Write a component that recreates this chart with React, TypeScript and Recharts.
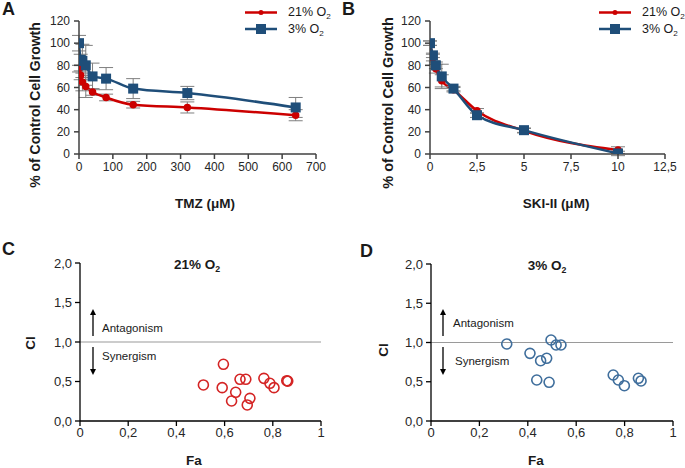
import React from 'react';
import {
  ComposedChart,
  Line,
  ErrorBar,
  XAxis,
  YAxis,
  ScatterChart,
  Scatter,
  ReferenceLine,
} from 'recharts';

// ---- data ----
const tmzDose = [0, 5, 10, 20, 40, 80, 160, 320, 640];
const tmzNormoxia = [77, 71, 65, 61, 56, 51, 44.5, 42, 35];
const tmzNormoxiaErr = [3, 4, 8, 10, 3, 3, 3, 5, 5];
const tmzHypoxia = [100, 85, 84, 80, 70, 68, 59, 55, 42];
const tmzHypoxiaErr = [7, 5, 15, 18, 12, 10, 9, 6, 9];

const skiDose = [0, 0.156, 0.3125, 0.625, 1.25, 2.5, 5, 10];
const skiNormoxia = [100, 87, 77, 66, 58, 39, 21, 3.5];
const skiNormoxiaErr = [2, 3, 4, 5.5, 2, 2, 2, 3];
const skiHypoxia = [100, 89, 80, 70, 59, 35, 21.5, 0.5];
const skiHypoxiaErr = [2, 2, 3, 11, 2, 2, 2, 2];

const fa21 = [0.595, 0.512, 0.59, 0.664, 0.688, 0.763, 0.788, 0.805, 0.858, 0.862, 0.646, 0.629, 0.705, 0.694];
const ci21 = [0.718, 0.456, 0.422, 0.528, 0.528, 0.54, 0.477, 0.422, 0.51, 0.505, 0.363, 0.253, 0.287, 0.203];

const fa3 = [0.313, 0.496, 0.517, 0.537, 0.409, 0.453, 0.478, 0.437, 0.488, 0.753, 0.774, 0.799, 0.857, 0.868];
const ci3 = [0.981, 1.032, 0.968, 0.968, 0.862, 0.768, 0.799, 0.522, 0.493, 0.586, 0.522, 0.45, 0.544, 0.51];

const growthTicks = [0, 20, 40, 60, 80, 100, 120];
const tmzTicks = [0, 100, 200, 300, 400, 500, 600, 700];
const skiTicks = [0, 2.5, 5, 7.5, 10, 12.5];
const faTicks = [0, 0.2, 0.4, 0.6, 0.8, 1];
const ciTicks = [0, 0.5, 1, 1.5, 2];

const RED = '#cc0000';
const BLUE = '#1f4e79';
const RED_OPEN = '#d42424';
const BLUE_OPEN = '#3f6e9c';
const FONT = '"Liberation Sans", Arial, sans-serif';

const series = (xs: number[], ys: number[], es?: number[]) =>
  xs.map((x, i) => ({ x, y: ys[i], err: es ? es[i] : 0 }));

const comma = (v: number) => String(v).replace('.', ',');
const comma1 = (v: number) => v.toFixed(1).replace('.', ',');

const Square = (props: any) => {
  const { cx, cy, index } = props;
  if (cx == null || cy == null) return <g key={index} />;
  return <rect key={index} x={cx - 5} y={cy - 5} width={10} height={10} fill={BLUE} />;
};

const OpenCircle = (color: string) => (props: any) => {
  const { cx, cy } = props;
  return <circle cx={cx} cy={cy} r={5} fill="none" stroke={color} strokeWidth={1.6} />;
};

const tickStyle = { fontSize: 12, fill: '#262626', fontFamily: FONT };
const ciTickStyle = { fontSize: 13, fill: '#262626', fontFamily: FONT };
const axisLine = { stroke: '#404040', strokeWidth: 1.5 };

const Txt: React.FC<{ x: number; y: number; size?: number; bold?: boolean; rotate?: boolean; anchor?: 'start' | 'middle'; children: React.ReactNode }> = ({
  x,
  y,
  size = 12,
  bold,
  rotate,
  anchor = 'middle',
  children,
}) => (
  <div
    style={{
      position: 'absolute',
      left: x,
      top: y,
      fontSize: size,
      fontWeight: bold ? 'bold' : 'normal',
      fontFamily: FONT,
      color: '#1a1a1a',
      whiteSpace: 'nowrap',
      lineHeight: 1,
      transform: `translate(${anchor === 'middle' ? '-50%' : '0'}, -50%)${rotate ? ' rotate(-90deg)' : ''}`,
      transformOrigin: anchor === 'middle' ? 'center' : 'left center',
    }}
  >
    {children}
  </div>
);

const O2 = ({ pct }: { pct: string }) => (
  <span>
    {pct} O<span style={{ fontSize: '0.65em', position: 'relative', top: 3 }}>2</span>
  </span>
);

const LegendBox = ({ x }: { x: number }) => (
  <>
    <svg style={{ position: 'absolute', left: x, top: 4 }} width={36} height={34}>
      <line x1={2} y1={8.5} x2={34} y2={8.5} stroke={RED} strokeWidth={2.5} />
      <circle cx={18} cy={8.5} r={2.5} fill={RED} />
      <line x1={2} y1={25} x2={34} y2={25} stroke={BLUE} strokeWidth={2.5} />
      <rect x={13} y={20} width={10} height={10} fill={BLUE} />
    </svg>
    <Txt x={x + 45} y={12} size={12.5} anchor="start">
      <O2 pct="21%" />
    </Txt>
    <Txt x={x + 45} y={29} size={12.5} anchor="start">
      <O2 pct="3%" />
    </Txt>
  </>
);

const Arrows = ({ x }: { x: number; }) => (
  <svg style={{ position: 'absolute', left: x - 5, top: 305 }} width={10} height={75}>
    <line x1={5} y1={31} x2={5} y2={8} stroke="#000" strokeWidth={1.3} />
    <polygon points="5,4 2,10 8,10" fill="#000" />
    <line x1={5} y1={42} x2={5} y2={64} stroke="#000" strokeWidth={1.3} />
    <polygon points="5,70 2,64 8,64" fill="#000" />
  </svg>
);

const DoseChart = ({
  left,
  width,
  yAxisWidth,
  right,
  xMax,
  xTicks,
  fmt,
  red,
  blue,
}: any) => (
  <div style={{ position: 'absolute', left, top: 0 }}>
    <ComposedChart width={width} height={220} margin={{ top: 21, right, bottom: 36, left: 0 }}>
      <XAxis
        dataKey="x"
        type="number"
        domain={[0, xMax]}
        ticks={xTicks}
        tickFormatter={fmt}
        height={30}
        tick={tickStyle}
        axisLine={axisLine}
        tickLine={axisLine}
        tickSize={5}
        tickMargin={3}
        allowDataOverflow
      />
      <YAxis
        type="number"
        domain={[0, 120]}
        ticks={growthTicks}
        width={yAxisWidth}
        tick={tickStyle}
        axisLine={axisLine}
        tickLine={axisLine}
        tickSize={5}
        tickMargin={4}
        allowDataOverflow
      />
      <Line
        data={red}
        dataKey="y"
        type="monotone"
        stroke={RED}
        strokeWidth={2.5}
        dot={{ r: 2.5, fill: RED, stroke: RED }}
        isAnimationActive={false}
      >
        <ErrorBar dataKey="err" direction="y" width={7} stroke="#7f7f7f" strokeWidth={1} />
      </Line>
      <Line
        data={blue}
        dataKey="y"
        type="monotone"
        stroke={BLUE}
        strokeWidth={2.5}
        dot={Square}
        isAnimationActive={false}
      >
        <ErrorBar dataKey="err" direction="y" width={7} stroke="#7f7f7f" strokeWidth={1} />
      </Line>
    </ComposedChart>
  </div>
);

const CiChart = ({ left, width, yAxisWidth, right, top, data, color }: any) => (
  <div style={{ position: 'absolute', left, top: 230 }}>
    <ScatterChart width={width} height={238} margin={{ top, right, bottom: 17, left: 0 }}>
      <XAxis
        dataKey="x"
        type="number"
        domain={[0, 1]}
        ticks={faTicks}
        tickFormatter={comma}
        height={30}
        tick={ciTickStyle}
        axisLine={{ stroke: '#000', strokeWidth: 1.3 }}
        tickLine={{ stroke: '#000', strokeWidth: 1.3 }}
        tickSize={5}
        tickMargin={2}
      />
      <YAxis
        dataKey="y"
        type="number"
        domain={[0, 2]}
        ticks={ciTicks}
        tickFormatter={comma1}
        width={yAxisWidth}
        tick={ciTickStyle}
        axisLine={{ stroke: '#000', strokeWidth: 1.3 }}
        tickLine={{ stroke: '#000', strokeWidth: 1.3 }}
        tickSize={5}
        tickMargin={3}
      />
      <ReferenceLine y={1} stroke="#9a9a9a" strokeWidth={1.2} />
      <Scatter data={data} shape={OpenCircle(color)} isAnimationActive={false} />
    </ScatterChart>
  </div>
);

export default function App() {
  return (
    <div
      style={{
        position: 'absolute',
        left: 0,
        top: 0,
        width: 685,
        height: 468,
        background: '#fff',
        overflow: 'hidden',
      }}
    >
      <DoseChart
        left={0}
        width={340}
        yAxisWidth={79}
        right={24}
        xMax={700}
        xTicks={tmzTicks}
        fmt={(v: number) => String(v)}
        red={series(tmzDose, tmzNormoxia, tmzNormoxiaErr)}
        blue={series(tmzDose, tmzHypoxia, tmzHypoxiaErr)}
      />
      <DoseChart
        left={340}
        width={345}
        yAxisWidth={90}
        right={20}
        xMax={12.5}
        xTicks={skiTicks}
        fmt={comma}
        red={series(skiDose, skiNormoxia, skiNormoxiaErr)}
        blue={series(skiDose, skiHypoxia, skiHypoxiaErr)}
      />
      <CiChart left={0} width={340} yAxisWidth={80} right={19} top={33} data={series(fa21, ci21)} color={RED_OPEN} />
      <CiChart left={340} width={345} yAxisWidth={91} right={12} top={34} data={series(fa3, ci3)} color={BLUE_OPEN} />

      {/* panel letters */}
      <Txt x={2} y={9} size={18} bold anchor="start">A</Txt>
      <Txt x={342} y={9} size={18} bold anchor="start">B</Txt>
      <Txt x={2} y={249} size={18} bold anchor="start">C</Txt>
      <Txt x={360} y={251} size={18} bold anchor="start">D</Txt>

      {/* axis titles */}
      <Txt x={35} y={105} size={14} bold rotate>% of Control Cell Growth</Txt>
      <Txt x={388} y={103} size={14.5} bold rotate>% of Control Cell Growth</Txt>
      <Txt x={205} y={204} size={13.5} bold>TMZ (μM)</Txt>
      <Txt x={556} y={204} size={13.5} bold>SKI-II (μM)</Txt>
      <Txt x={31} y={343} size={13.5} bold rotate>CI</Txt>
      <Txt x={384} y={350} size={13.5} bold rotate>CI</Txt>
      <Txt x={194} y={461} size={13.5} bold>Fa</Txt>
      <Txt x={536} y={461} size={13.5} bold>Fa</Txt>

      {/* legends */}
      <LegendBox x={243} />
      <LegendBox x={597} />

      {/* CI panel titles and annotations */}
      <Txt x={197} y={265} size={13.5} bold><O2 pct="21%" /></Txt>
      <Txt x={547} y={266} size={13.5} bold><O2 pct="3% " /></Txt>
      <Txt x={102} y={329} size={11.5} anchor="start">Antagonism</Txt>
      <Txt x={102} y={357} size={11.5} anchor="start">Synergism</Txt>
      <Txt x={453} y={324} size={11.5} anchor="start">Antagonism</Txt>
      <Txt x={455} y={362} size={11.5} anchor="start">Synergism</Txt>
      <Arrows x={93} />
      <Arrows x={443} />
    </div>
  );
}
